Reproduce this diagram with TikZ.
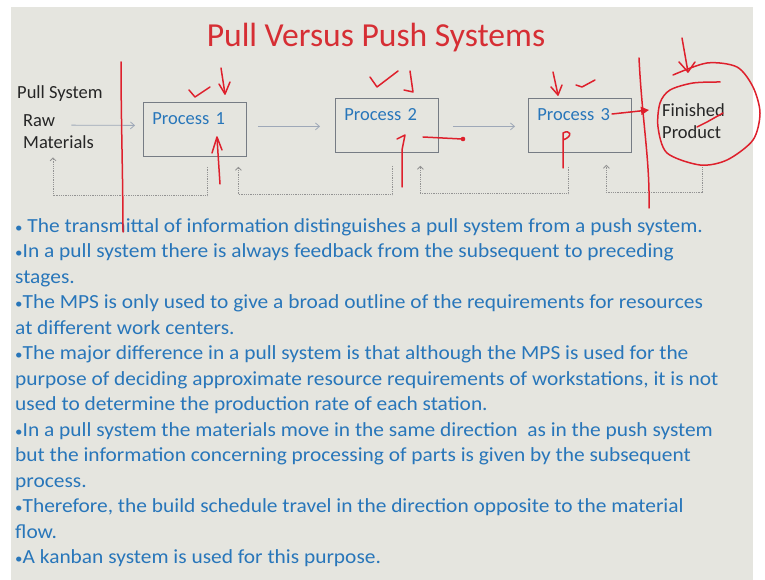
\documentclass[tikz,border=0pt]{standalone}
\usepackage{fontspec}
\setmainfont{Carlito}
\newfontfamily\widecarlito[FakeStretch=1.07]{Carlito}
\usetikzlibrary{arrows.meta}
\definecolor{slidegray}{RGB}{229,229,223}
\definecolor{titlered}{RGB}{214,46,52}
\definecolor{textblue}{RGB}{40,118,186}
\definecolor{boxgray}{RGB}{118,124,132}
\definecolor{flowgray}{RGB}{158,168,184}
\definecolor{inkred}{RGB}{222,32,44}
\newcommand{\slidefont}{\fontsize{18.5}{22}\selectfont}
\newcommand{\bodyfont}{\widecarlito\fontsize{20}{25}\selectfont}
\newcommand{\bul}{{\fontsize{14}{14}\selectfont •}}

\begin{document}
\begin{tikzpicture}[x=1pt,y=-1pt,
    every node/.style={inner sep=0pt},
    lbl/.style={font=\slidefont, text=black!85, anchor=base west},
    proc/.style={draw=boxgray, line width=0.8pt, anchor=north west, inner xsep=9pt, inner ysep=0pt,
        text width=85pt, align=left, text height=22pt, text depth=32pt, font=\slidefont, text=textblue},
    flow/.style={flowgray, line width=0.8pt, -{Straight Barb[length=4pt,width=7pt]}},
    fb/.style={gray!85, line width=0.8pt, densely dotted, -{Straight Barb[length=3pt,width=6pt]}},
    ink/.style={inkred, line width=1.5pt, line cap=round, line join=round},
    bullet/.style={font=\bodyfont, text=textblue, anchor=base west}]

    \useasboundingbox (0,0) rectangle (765,580);
    \fill[white] (0,0) rectangle (765,580);
    \fill[slidegray] (11,7) rectangle (753,580);

    \node[font=\fontsize{33.6}{40}\selectfont, text=titlered, anchor=base] (title) at (376,47) {Pull Versus Push Systems};

    % the pull line
    \node[lbl] (pull) at (17,99) {Pull System};
    \node[lbl] (raw) at (23,127) {Raw};
    \node[lbl] (mat) at (23,149) {Materials};
    \node[proc] (p1) at (143,102) {Process 1};
    \node[proc] (p2) at (335,98) {Process 2};
    \node[proc] (p3) at (528,98) {Process 3};
    \node[lbl] (fin) at (662,117) {Finished};
    \node[lbl] (prod) at (662,139) {Product};

    \draw[flow] ([xshift=16pt,yshift=-4pt]raw.east) -- ([xshift=-8pt,yshift=4pt]p1.west);
    \draw[flow] ([xshift=11pt,yshift=3pt]p1.east) -- ([xshift=-15pt,yshift=-1pt]p2.west);
    \draw[flow] ([xshift=14pt,yshift=-1pt]p2.east) -- ([xshift=-13pt,yshift=-1pt]p3.west);

    % feedback
    \draw[fb] ([xshift=12.5pt,yshift=-10pt]p1.south) -- ++(0,29) -| ([xshift=-5.5pt,yshift=-8pt]mat.south);
    \draw[fb] ([xshift=5.5pt,yshift=-13pt]p2.south) -- ++(0,29) -| ([xshift=43.5pt,yshift=-10pt]p1.south);
    \draw[fb] ([xshift=-11.5pt,yshift=-14pt]p3.south) -- ++(0,27) -| ([xshift=33.5pt,yshift=-13pt]p2.south);
    \draw[fb] ([xshift=10.4pt,yshift=-26pt]prod.south) -- ++(0,27) -| ([xshift=26.5pt,yshift=-12pt]p3.south);

    % bullets
    \foreach \txt [count=\i from 0] in {
        {\bul\ The transmittal of information distinguishes a pull system from a push system.},
        {\bul In a pull system there is always feedback from the subsequent to preceding},
        {stages.},
        {\bul The MPS is only used to give a broad outline of the requirements for resources},
        {at different work centers.},
        {\bul The major difference in a pull system is that although the MPS is used for the},
        {purpose of deciding approximate resource requirements of workstations, it is not},
        {used to determine the production rate of each station.},
        {\bul In a pull system the materials move in the same direction\ \ as in the push system},
        {but the information concerning processing of parts is given by the subsequent},
        {process.},
        {\bul Therefore, the build schedule travel in the direction opposite to the material},
        {flow.},
        {\bul A kanban system is used for this purpose.}}
        \node[bullet] (line\i) at (15,{232+25.5*\i}) {\txt};

    % red pen marks
    \draw[ink] (121,62) .. controls (121,120) and (123,180) .. (123,232);
    \draw[ink] (639,58) .. controls (642,120) and (650,160) .. (649,208);
    \draw[ink] (189,90) -- (195,97) -- (210,87);
    \draw[ink] (221,68) -- (225,94);
    \draw[ink] (219,84) -- (225,94) -- (230,82);
    \draw[ink] (220,184) -- (217,138);
    \draw[ink] (212,153) -- (217,137) -- (222,150);
    \draw[ink] (370,77) -- (377,87) -- (398,71);
    \draw[ink] (410,71) -- (413,92) -- (404,90);
    \draw[ink] (397,139) -- (405,135) -- (402,150) -- (402,187);
    \draw[ink] (423,137) -- (462,139);
    \fill[inkred] (463,139) circle (2.3pt);
    \draw[ink] (553,72) -- (558,95);
    \draw[ink] (551,87) -- (558,95) -- (562,85);
    \draw[ink] (576,85) -- (582,87) -- (595,80);
    \draw[ink] (563,168) -- (563,133) .. controls (570,129) and (574,136) .. (563,140);
    \draw[ink, -{Triangle[length=8pt,width=8pt]}] (612,114) -- (649,110);
    \draw[ink] plot[smooth] coordinates {(673,75) (707,63) (737,67) (753,87) (760,113) (753,140) (727,160) (700,165) (667,153) (658,127) (660,103) (670,90) (693,83) (720,82)};
    \draw[ink] (682,38) -- (688,72);
    \draw[ink] (679,62) -- (688,72) -- (695,62);
    \draw[ink] (697,127) -- (707,122) -- (723,113);
\end{tikzpicture}
\end{document}
